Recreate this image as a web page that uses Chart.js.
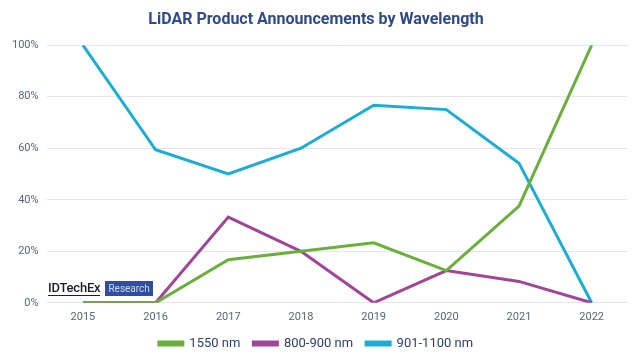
<!DOCTYPE html>
<html>
<head>
<meta charset="utf-8">
<script src="https://cdn.jsdelivr.net/npm/chart.js@4"></script>
<style>
  html, body { margin:0; padding:0; background:#fff; }
  #wrap { position:relative; width:640px; height:360px; }
  #logo { position:absolute; left:48px; top:281px; font-family:Roboto, sans-serif; display:flex; align-items:center; }
  #logo .id { font-size:13px; font-weight:500; color:#1d1d2b; border-bottom:1px solid #1d1d2b; line-height:14px; letter-spacing:-0.2px; }
  #logo .rs { margin-left:5px; background:#2f4f9e; color:#cfd8f0; font-size:10px; padding:1px 3px; line-height:13px; }
</style>
</head>
<body>
<div id="wrap">
<canvas id="c" width="640" height="360"></canvas>
<div id="logo"><span class="id">IDTechEx</span><span class="rs">Research</span></div>
</div>
<script>
const years = ['2015','2016','2017','2018','2019','2020','2021','2022'];
const s1550 = [0, 0, 16.7, 20, 23.3, 12.5, 37.5, 100];
const s800 = [0, 0, 33.3, 20, 0, 12.5, 8.3, 0];
const s901 = [100, 59.4, 50, 60, 76.7, 75, 54.2, 0];
const seriesNames = ['1550 nm', '800-900 nm', '901-1100 nm'];
const colors = ['#6aaf3a', '#a3449b', '#1aaed6'];

const ds = [s1550, s800, s901].map((d, i) => ({
  label: seriesNames[i],
  data: d,
  borderColor: colors[i],
  backgroundColor: colors[i],
  borderWidth: 3,
  pointRadius: 0,
  tension: 0,
  fill: false
}));

new Chart(document.getElementById('c'), {
  type: 'line',
  data: { labels: years, datasets: ds },
  options: {
    responsive: false,
    animation: false,
    layout: { padding: { left: 4, right: 12, top: 8, bottom: 0 } },
    plugins: {
      title: {
        display: true,
        text: 'LiDAR Product Announcements by Wavelength',
        color: '#2e4a8a',
        font: { family: 'Roboto', size: 16, weight: 'bold' },
        padding: { top: 2, bottom: 16 }
      },
      legend: {
        position: 'bottom',
        labels: {
          boxWidth: 24, boxHeight: 3,
          color: '#2f3e6b',
          font: { family: 'Roboto', size: 13 },
          padding: 13
        }
      },
      tooltip: { enabled: false }
    },
    scales: {
      x: {
        offset: true,
        grid: { display: false },
        border: { display: false },
        ticks: { color: '#5a6478', font: { family: 'Roboto', size: 11 }, padding: 0 }
      },
      y: {
        min: 0, max: 100,
        ticks: { stepSize: 20, callback: v => v + '%', color: '#5a6478', font: { family: 'Roboto', size: 11 }, padding: 8 },
        grid: { color: '#e6e6e6', drawTicks: false },
        border: { display: false }
      }
    }
  }
});
</script>
</body>
</html>
